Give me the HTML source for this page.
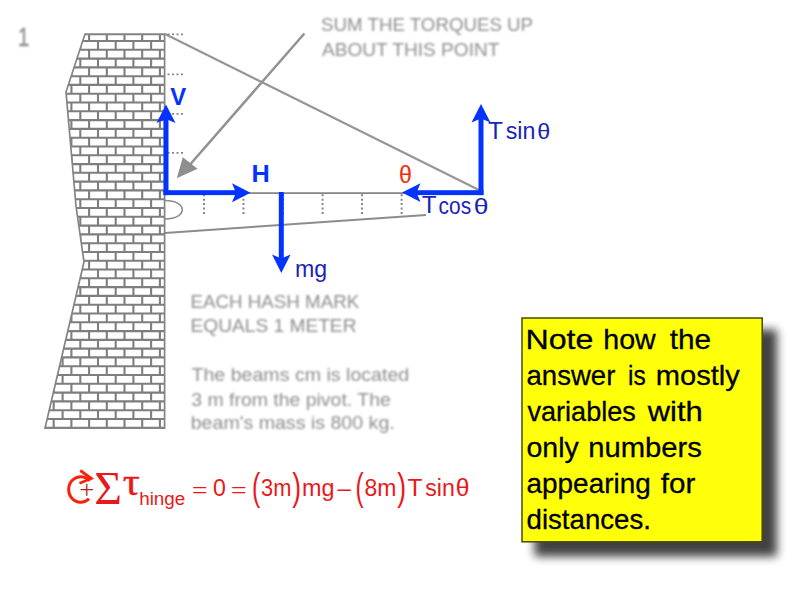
<!DOCTYPE html>
<html lang="en">
<head>
<meta charset="utf-8">
<title>Torque about the hinge</title>
<style>
  html, body { margin: 0; padding: 0; background: #ffffff; }
  body { width: 800px; height: 600px; overflow: hidden; position: relative; }
  svg { position: absolute; left: 0; top: 0; display: block; }
  .sa { font-family: "Liberation Sans", sans-serif; }
  .se { font-family: "Liberation Serif", serif; }
</style>
</head>
<body>
<svg width="800" height="600" viewBox="0 0 800 600">
  <defs>
    <clipPath id="wallclip">
      <polygon points="85,34.100 164.600,34.100 164.600,428.200 45,428.200 84,262 76,206 66,92"/>
    </clipPath>
    <filter id="soft" x="-5%" y="-5%" width="110%" height="110%">
      <feGaussianBlur stdDeviation="0.7"/>
    </filter>
    <filter id="softer" x="-5%" y="-5%" width="110%" height="110%">
      <feGaussianBlur stdDeviation="0.9"/>
    </filter>
    <filter id="shadow" x="-20%" y="-20%" width="140%" height="140%">
      <feGaussianBlur stdDeviation="5"/>
    </filter>
  </defs>

  <!-- grey diagram -->
  <g filter="url(#soft)">
    <path clip-path="url(#wallclip)" fill="none" stroke="#7e7e7e" stroke-width="2.1" d="M40 34.1H166 M40 41.0H166 M40 49.8H166 M40 58.6H166 M40 67.4H166 M40 76.2H166 M40 84.9H166 M40 93.7H166 M40 102.5H166 M40 111.3H166 M40 120.1H166 M40 128.9H166 M40 137.7H166 M40 146.5H166 M40 155.3H166 M40 164.1H166 M40 172.8H166 M40 181.6H166 M40 190.4H166 M40 199.2H166 M40 208.0H166 M40 216.8H166 M40 225.6H166 M40 234.4H166 M40 243.2H166 M40 252.0H166 M40 260.8H166 M40 269.5H166 M40 278.3H166 M40 287.1H166 M40 295.9H166 M40 304.7H166 M40 313.5H166 M40 322.3H166 M40 331.1H166 M40 339.9H166 M40 348.6H166 M40 357.4H166 M40 366.2H166 M40 375.0H166 M40 383.8H166 M40 392.6H166 M40 401.4H166 M40 410.2H166 M40 419.0H166 M40 427.8H166 M53.7 34.1V41.0 M71.4 34.1V41.0 M89.1 34.1V41.0 M106.8 34.1V41.0 M124.5 34.1V41.0 M142.2 34.1V41.0 M159.9 34.1V41.0 M44.9 41.0V49.8 M62.6 41.0V49.8 M80.3 41.0V49.8 M98.0 41.0V49.8 M115.7 41.0V49.8 M133.4 41.0V49.8 M151.1 41.0V49.8 M53.7 49.8V58.6 M71.4 49.8V58.6 M89.1 49.8V58.6 M106.8 49.8V58.6 M124.5 49.8V58.6 M142.2 49.8V58.6 M159.9 49.8V58.6 M44.9 58.6V67.4 M62.6 58.6V67.4 M80.3 58.6V67.4 M98.0 58.6V67.4 M115.7 58.6V67.4 M133.4 58.6V67.4 M151.1 58.6V67.4 M53.7 67.4V76.2 M71.4 67.4V76.2 M89.1 67.4V76.2 M106.8 67.4V76.2 M124.5 67.4V76.2 M142.2 67.4V76.2 M159.9 67.4V76.2 M44.9 76.2V84.9 M62.6 76.2V84.9 M80.3 76.2V84.9 M98.0 76.2V84.9 M115.7 76.2V84.9 M133.4 76.2V84.9 M151.1 76.2V84.9 M53.7 84.9V93.7 M71.4 84.9V93.7 M89.1 84.9V93.7 M106.8 84.9V93.7 M124.5 84.9V93.7 M142.2 84.9V93.7 M159.9 84.9V93.7 M44.9 93.7V102.5 M62.6 93.7V102.5 M80.3 93.7V102.5 M98.0 93.7V102.5 M115.7 93.7V102.5 M133.4 93.7V102.5 M151.1 93.7V102.5 M53.7 102.5V111.3 M71.4 102.5V111.3 M89.1 102.5V111.3 M106.8 102.5V111.3 M124.5 102.5V111.3 M142.2 102.5V111.3 M159.9 102.5V111.3 M44.9 111.3V120.1 M62.6 111.3V120.1 M80.3 111.3V120.1 M98.0 111.3V120.1 M115.7 111.3V120.1 M133.4 111.3V120.1 M151.1 111.3V120.1 M53.7 120.1V128.9 M71.4 120.1V128.9 M89.1 120.1V128.9 M106.8 120.1V128.9 M124.5 120.1V128.9 M142.2 120.1V128.9 M159.9 120.1V128.9 M44.9 128.9V137.7 M62.6 128.9V137.7 M80.3 128.9V137.7 M98.0 128.9V137.7 M115.7 128.9V137.7 M133.4 128.9V137.7 M151.1 128.9V137.7 M53.7 137.7V146.5 M71.4 137.7V146.5 M89.1 137.7V146.5 M106.8 137.7V146.5 M124.5 137.7V146.5 M142.2 137.7V146.5 M159.9 137.7V146.5 M44.9 146.5V155.3 M62.6 146.5V155.3 M80.3 146.5V155.3 M98.0 146.5V155.3 M115.7 146.5V155.3 M133.4 146.5V155.3 M151.1 146.5V155.3 M53.7 155.3V164.1 M71.4 155.3V164.1 M89.1 155.3V164.1 M106.8 155.3V164.1 M124.5 155.3V164.1 M142.2 155.3V164.1 M159.9 155.3V164.1 M44.9 164.1V172.8 M62.6 164.1V172.8 M80.3 164.1V172.8 M98.0 164.1V172.8 M115.7 164.1V172.8 M133.4 164.1V172.8 M151.1 164.1V172.8 M53.7 172.8V181.6 M71.4 172.8V181.6 M89.1 172.8V181.6 M106.8 172.8V181.6 M124.5 172.8V181.6 M142.2 172.8V181.6 M159.9 172.8V181.6 M44.9 181.6V190.4 M62.6 181.6V190.4 M80.3 181.6V190.4 M98.0 181.6V190.4 M115.7 181.6V190.4 M133.4 181.6V190.4 M151.1 181.6V190.4 M53.7 190.4V199.2 M71.4 190.4V199.2 M89.1 190.4V199.2 M106.8 190.4V199.2 M124.5 190.4V199.2 M142.2 190.4V199.2 M159.9 190.4V199.2 M44.9 199.2V208.0 M62.6 199.2V208.0 M80.3 199.2V208.0 M98.0 199.2V208.0 M115.7 199.2V208.0 M133.4 199.2V208.0 M151.1 199.2V208.0 M53.7 208.0V216.8 M71.4 208.0V216.8 M89.1 208.0V216.8 M106.8 208.0V216.8 M124.5 208.0V216.8 M142.2 208.0V216.8 M159.9 208.0V216.8 M44.9 216.8V225.6 M62.6 216.8V225.6 M80.3 216.8V225.6 M98.0 216.8V225.6 M115.7 216.8V225.6 M133.4 216.8V225.6 M151.1 216.8V225.6 M53.7 225.6V234.4 M71.4 225.6V234.4 M89.1 225.6V234.4 M106.8 225.6V234.4 M124.5 225.6V234.4 M142.2 225.6V234.4 M159.9 225.6V234.4 M44.9 234.4V243.2 M62.6 234.4V243.2 M80.3 234.4V243.2 M98.0 234.4V243.2 M115.7 234.4V243.2 M133.4 234.4V243.2 M151.1 234.4V243.2 M53.7 243.2V252.0 M71.4 243.2V252.0 M89.1 243.2V252.0 M106.8 243.2V252.0 M124.5 243.2V252.0 M142.2 243.2V252.0 M159.9 243.2V252.0 M44.9 252.0V260.8 M62.6 252.0V260.8 M80.3 252.0V260.8 M98.0 252.0V260.8 M115.7 252.0V260.8 M133.4 252.0V260.8 M151.1 252.0V260.8 M53.7 260.8V269.5 M71.4 260.8V269.5 M89.1 260.8V269.5 M106.8 260.8V269.5 M124.5 260.8V269.5 M142.2 260.8V269.5 M159.9 260.8V269.5 M44.9 269.5V278.3 M62.6 269.5V278.3 M80.3 269.5V278.3 M98.0 269.5V278.3 M115.7 269.5V278.3 M133.4 269.5V278.3 M151.1 269.5V278.3 M53.7 278.3V287.1 M71.4 278.3V287.1 M89.1 278.3V287.1 M106.8 278.3V287.1 M124.5 278.3V287.1 M142.2 278.3V287.1 M159.9 278.3V287.1 M44.9 287.1V295.9 M62.6 287.1V295.9 M80.3 287.1V295.9 M98.0 287.1V295.9 M115.7 287.1V295.9 M133.4 287.1V295.9 M151.1 287.1V295.9 M53.7 295.9V304.7 M71.4 295.9V304.7 M89.1 295.9V304.7 M106.8 295.9V304.7 M124.5 295.9V304.7 M142.2 295.9V304.7 M159.9 295.9V304.7 M44.9 304.7V313.5 M62.6 304.7V313.5 M80.3 304.7V313.5 M98.0 304.7V313.5 M115.7 304.7V313.5 M133.4 304.7V313.5 M151.1 304.7V313.5 M53.7 313.5V322.3 M71.4 313.5V322.3 M89.1 313.5V322.3 M106.8 313.5V322.3 M124.5 313.5V322.3 M142.2 313.5V322.3 M159.9 313.5V322.3 M44.9 322.3V331.1 M62.6 322.3V331.1 M80.3 322.3V331.1 M98.0 322.3V331.1 M115.7 322.3V331.1 M133.4 322.3V331.1 M151.1 322.3V331.1 M53.7 331.1V339.9 M71.4 331.1V339.9 M89.1 331.1V339.9 M106.8 331.1V339.9 M124.5 331.1V339.9 M142.2 331.1V339.9 M159.9 331.1V339.9 M44.9 339.9V348.6 M62.6 339.9V348.6 M80.3 339.9V348.6 M98.0 339.9V348.6 M115.7 339.9V348.6 M133.4 339.9V348.6 M151.1 339.9V348.6 M53.7 348.6V357.4 M71.4 348.6V357.4 M89.1 348.6V357.4 M106.8 348.6V357.4 M124.5 348.6V357.4 M142.2 348.6V357.4 M159.9 348.6V357.4 M44.9 357.4V366.2 M62.6 357.4V366.2 M80.3 357.4V366.2 M98.0 357.4V366.2 M115.7 357.4V366.2 M133.4 357.4V366.2 M151.1 357.4V366.2 M53.7 366.2V375.0 M71.4 366.2V375.0 M89.1 366.2V375.0 M106.8 366.2V375.0 M124.5 366.2V375.0 M142.2 366.2V375.0 M159.9 366.2V375.0 M44.9 375.0V383.8 M62.6 375.0V383.8 M80.3 375.0V383.8 M98.0 375.0V383.8 M115.7 375.0V383.8 M133.4 375.0V383.8 M151.1 375.0V383.8 M53.7 383.8V392.6 M71.4 383.8V392.6 M89.1 383.8V392.6 M106.8 383.8V392.6 M124.5 383.8V392.6 M142.2 383.8V392.6 M159.9 383.8V392.6 M44.9 392.6V401.4 M62.6 392.6V401.4 M80.3 392.6V401.4 M98.0 392.6V401.4 M115.7 392.6V401.4 M133.4 392.6V401.4 M151.1 392.6V401.4 M53.7 401.4V410.2 M71.4 401.4V410.2 M89.1 401.4V410.2 M106.8 401.4V410.2 M124.5 401.4V410.2 M142.2 401.4V410.2 M159.9 401.4V410.2 M44.9 410.2V419.0 M62.6 410.2V419.0 M80.3 410.2V419.0 M98.0 410.2V419.0 M115.7 410.2V419.0 M133.4 410.2V419.0 M151.1 410.2V419.0 M53.7 419.0V427.8 M71.4 419.0V427.8 M89.1 419.0V427.8 M106.8 419.0V427.8 M124.5 419.0V427.8 M142.2 419.0V427.8 M159.9 419.0V427.8"/>
    <polygon points="85,34.100 164.600,34.100 164.600,428.200 45,428.200 84,262 76,206 66,92" fill="none" stroke="#848484" stroke-width="1.7"/>

    <!-- cable -->
    <line x1="165" y1="34" x2="482" y2="191.400" stroke="#969696" stroke-width="2.2"/>
    <!-- beam -->
    <line x1="165" y1="193.100" x2="482" y2="193.100" stroke="#858585" stroke-width="1.8"/>
    <line x1="165" y1="233" x2="426" y2="215" stroke="#8c8c8c" stroke-width="1.9"/>
    <!-- hinge -->
    <path d="M165 200.500 C188 200.500 188 219 165 219" fill="none" stroke="#8c8c8c" stroke-width="1.6"/>
    <!-- beam hash marks -->
    <g stroke="#868686" stroke-width="2" stroke-dasharray="2 2.45">
      <line x1="204" y1="194.200" x2="204" y2="214"/>
      <line x1="243.500" y1="194.200" x2="243.500" y2="214"/>
      <line x1="283" y1="194.200" x2="283" y2="214"/>
      <line x1="322.600" y1="194.200" x2="322.600" y2="214"/>
      <line x1="362" y1="194.200" x2="362" y2="214"/>
      <line x1="401.600" y1="194.200" x2="401.600" y2="214"/>
    </g>
    <!-- wall hash marks -->
    <g stroke="#868686" stroke-width="1.9" stroke-dasharray="2 2.5">
      <line x1="167.500" y1="34.400" x2="183.500" y2="34.400"/>
      <line x1="167.500" y1="74.400" x2="183.500" y2="74.400"/>
      <line x1="167.500" y1="113.900" x2="183.500" y2="113.900"/>
      <line x1="167.500" y1="152.900" x2="183.500" y2="152.900"/>
    </g>
    <!-- pointer arrow -->
    <line x1="304.400" y1="33.500" x2="189" y2="165.700" stroke="#929292" stroke-width="2.5"/>
    <polygon points="176.800,178.300 182.800,157.300 197.500,168.800" fill="#8e8e8e"/>

  </g>
  <g filter="url(#softer)">
    <text x="18.10" y="46.25" font-size="25.35" class="sa" fill="#8e8e8e" stroke="#8e8e8e" stroke-width="0.5" textLength="11.28" lengthAdjust="spacingAndGlyphs">1</text>
    <text x="321.02" y="31.10" font-size="19" class="sa" fill="#8e8e8e" textLength="212.09" lengthAdjust="spacingAndGlyphs">SUM THE TORQUES UP</text>
    <text x="322.00" y="55.60" font-size="19" class="sa" fill="#8e8e8e" textLength="177.41" lengthAdjust="spacingAndGlyphs">ABOUT THIS POINT</text>
    <text x="190.52" y="308.30" font-size="19" class="sa" fill="#8e8e8e" textLength="168.76" lengthAdjust="spacingAndGlyphs">EACH HASH MARK</text>
    <text x="190.49" y="332.10" font-size="19" class="sa" fill="#8e8e8e" textLength="165.98" lengthAdjust="spacingAndGlyphs">EQUALS 1 METER</text>
    <text x="191.48" y="381.10" font-size="19" class="sa" fill="#8e8e8e" textLength="217.75" lengthAdjust="spacingAndGlyphs">The beams cm is located</text>
    <text x="191.23" y="405.60" font-size="19" class="sa" fill="#8e8e8e" textLength="199.55" lengthAdjust="spacingAndGlyphs">3 m from the pivot. The</text>
    <text x="190.71" y="429.10" font-size="19" class="sa" fill="#8e8e8e" textLength="204.02" lengthAdjust="spacingAndGlyphs">beam&#39;s mass is 800 kg.</text>
  </g>

  <!-- blue force arrows -->
  <g fill="#0433ff" stroke="none">
    <!-- V -->
    <rect x="163.500" y="118" width="5" height="77.100"/>
    <polygon points="166,104.500 175.500,123 166,119 156.500,123"/>
    <!-- H -->
    <rect x="163.500" y="190.200" width="74" height="4.900"/>
    <polygon points="250.500,192.700 232,202.200 236,192.700 232,183.200"/>
    <!-- mg -->
    <rect x="278.800" y="192" width="5" height="68"/>
    <polygon points="281.300,273 272,254.500 281.300,258.500 290.600,254.500"/>
    <!-- T sin -->
    <rect x="478.500" y="117" width="5" height="78.100"/>
    <polygon points="481,104 490.500,122.500 481,118.500 471.500,122.500"/>
    <!-- T cos -->
    <rect x="415" y="190.200" width="68.500" height="4.900"/>
    <polygon points="402,192.600 420.500,183.300 416.500,192.600 420.500,201.900"/>
  </g>

  <!-- blue labels -->
  <g>
    <text x="170.26" y="104.50" font-size="24.73" font-weight="bold" class="sa" fill="#0433ff" textLength="15.98" lengthAdjust="spacingAndGlyphs">V</text>
    <text x="251.42" y="181.50" font-size="24.0" font-weight="bold" class="sa" fill="#0433ff" textLength="18.24" lengthAdjust="spacingAndGlyphs">H</text>
    <text x="294.99" y="277.20" font-size="23" class="sa" fill="#1a24ba" textLength="32.17" lengthAdjust="spacingAndGlyphs">mg</text>
    <text x="487.99" y="138.50" font-size="24.08" class="sa" fill="#1a24ba" textLength="14.98" lengthAdjust="spacingAndGlyphs">T</text>
    <text x="505.74" y="138.50" font-size="23" class="sa" fill="#1a24ba" textLength="29.67" lengthAdjust="spacingAndGlyphs">sin</text>
    <text x="537.22" y="138.55" font-size="22.73" class="sa" fill="#1a24ba" textLength="12.95" lengthAdjust="spacingAndGlyphs">θ</text>
    <text x="421.77" y="213.40" font-size="23.0" class="sa" fill="#1a24ba" textLength="14.81" lengthAdjust="spacingAndGlyphs">T</text>
    <text x="438.59" y="213.50" font-size="23" class="sa" fill="#1a24ba" textLength="32.53" lengthAdjust="spacingAndGlyphs">cos</text>
    <text x="473.72" y="213.55" font-size="22.46" class="sa" fill="#1a24ba" textLength="14.74" lengthAdjust="spacingAndGlyphs">θ</text>
    <text x="399.00" y="183.05" font-size="24.08" class="sa" fill="#f52a0a" textLength="12.91" lengthAdjust="spacingAndGlyphs">θ</text>
  </g>

  <!-- equation -->
  <g>
    <path d="M89 498.700 A12 12.800 0 1 1 89.600 480.900" fill="none" stroke="#fa200a" stroke-width="3"/>
    <path d="M80.300 470.500 L91.300 478.500 L79.500 483.300" fill="none" stroke="#fa200a" stroke-width="2.8" stroke-linejoin="miter"/>
    <text x="79.31" y="498.15" font-size="25.76" class="se" fill="#b82818" textLength="15.01" lengthAdjust="spacingAndGlyphs">+</text>
    <text x="94.19" y="504.00" font-size="46.14" class="se" fill="#ea181a" textLength="27.74" lengthAdjust="spacingAndGlyphs">Σ</text>
    <text x="122.65" y="495.20" font-size="37.86" class="se" fill="#ea181a" stroke="#ea181a" stroke-width="0.4" textLength="17.15" lengthAdjust="spacingAndGlyphs">τ</text>
    <text x="139.19" y="504.50" font-size="18" class="sa" fill="#ea181a" textLength="46.14" lengthAdjust="spacingAndGlyphs">hinge</text>
    <text x="192.09" y="496.05" font-size="19" class="sa" fill="#ea181a" textLength="15.60" lengthAdjust="spacingAndGlyphs">=</text>
    <text x="213.02" y="495.75" font-size="23.71" class="sa" fill="#ea181a" textLength="12.89" lengthAdjust="spacingAndGlyphs">0</text>
    <text x="231.09" y="496.05" font-size="19" class="sa" fill="#ea181a" textLength="15.60" lengthAdjust="spacingAndGlyphs">=</text>
    <text x="252.04" y="499.50" font-size="37.87" class="sa" fill="#ea181a" textLength="8.20" lengthAdjust="spacingAndGlyphs">(</text>
    <text x="261.05" y="496.00" font-size="23" class="sa" fill="#ea181a" textLength="30.33" lengthAdjust="spacingAndGlyphs">3m</text>
    <text x="292.32" y="499.50" font-size="37.87" class="sa" fill="#ea181a" textLength="8.83" lengthAdjust="spacingAndGlyphs">)</text>
    <text x="301.97" y="496.00" font-size="23" class="sa" fill="#ea181a" textLength="32.50" lengthAdjust="spacingAndGlyphs">mg</text>
    <text x="336.30" y="498.00" font-size="23" class="sa" fill="#ea181a" textLength="16.12" lengthAdjust="spacingAndGlyphs">−</text>
    <text x="355.54" y="499.50" font-size="37.87" class="sa" fill="#ea181a" textLength="8.20" lengthAdjust="spacingAndGlyphs">(</text>
    <text x="364.50" y="496.00" font-size="23" class="sa" fill="#ea181a" textLength="31.95" lengthAdjust="spacingAndGlyphs">8m</text>
    <text x="397.32" y="499.50" font-size="37.87" class="sa" fill="#ea181a" textLength="8.83" lengthAdjust="spacingAndGlyphs">)</text>
    <text x="407.49" y="496.00" font-size="24.08" class="sa" fill="#ea181a" textLength="14.98" lengthAdjust="spacingAndGlyphs">T</text>
    <text x="425.24" y="496.00" font-size="23" class="sa" fill="#ea181a" textLength="29.67" lengthAdjust="spacingAndGlyphs">sin</text>
    <text x="455.66" y="495.75" font-size="23.0" class="sa" fill="#ea181a" textLength="13.73" lengthAdjust="spacingAndGlyphs">θ</text>
  </g>

  <!-- note box -->
  <rect x="534.500" y="329.500" width="242.500" height="227" fill="#000000" opacity="0.74" filter="url(#shadow)"/>
  <rect x="522" y="318" width="240.200" height="223.800" fill="#ffff0a" stroke="#4a4a00" stroke-width="1.5"/>
  <g>
    <text x="525.46" y="349.00" font-size="28.5" class="sa" fill="#000000" stroke="#000000" stroke-width="0.3" textLength="67.89" lengthAdjust="spacingAndGlyphs">Note</text>
    <text x="603.24" y="349.00" font-size="28.5" class="sa" fill="#000000" stroke="#000000" stroke-width="0.3" textLength="52.54" lengthAdjust="spacingAndGlyphs">how</text>
    <text x="669.74" y="349.00" font-size="28.5" class="sa" fill="#000000" stroke="#000000" stroke-width="0.3" textLength="41.43" lengthAdjust="spacingAndGlyphs">the</text>
    <text x="526.53" y="385.00" font-size="28.5" class="sa" fill="#000000" stroke="#000000" stroke-width="0.3" textLength="88.83" lengthAdjust="spacingAndGlyphs">answer</text>
    <text x="627.99" y="385.00" font-size="28.5" class="sa" fill="#000000" stroke="#000000" stroke-width="0.3" textLength="17.72" lengthAdjust="spacingAndGlyphs">is</text>
    <text x="655.71" y="385.00" font-size="28.5" class="sa" fill="#000000" stroke="#000000" stroke-width="0.3" textLength="84.13" lengthAdjust="spacingAndGlyphs">mostly</text>
    <text x="527.50" y="421.00" font-size="28.5" class="sa" fill="#000000" stroke="#000000" stroke-width="0.3" textLength="108.27" lengthAdjust="spacingAndGlyphs">variables</text>
    <text x="647.77" y="421.00" font-size="28.5" class="sa" fill="#000000" stroke="#000000" stroke-width="0.3" textLength="55.06" lengthAdjust="spacingAndGlyphs">with</text>
    <text x="526.50" y="457.00" font-size="28.5" class="sa" fill="#000000" stroke="#000000" stroke-width="0.3" textLength="52.29" lengthAdjust="spacingAndGlyphs">only</text>
    <text x="588.21" y="457.00" font-size="28.5" class="sa" fill="#000000" stroke="#000000" stroke-width="0.3" textLength="113.70" lengthAdjust="spacingAndGlyphs">numbers</text>
    <text x="526.52" y="493.00" font-size="28.5" class="sa" fill="#000000" stroke="#000000" stroke-width="0.3" textLength="124.22" lengthAdjust="spacingAndGlyphs">appearing</text>
    <text x="660.74" y="493.00" font-size="28.5" class="sa" fill="#000000" stroke="#000000" stroke-width="0.3" textLength="34.53" lengthAdjust="spacingAndGlyphs">for</text>
    <text x="526.53" y="529.00" font-size="28.5" class="sa" fill="#000000" stroke="#000000" stroke-width="0.3" textLength="124.46" lengthAdjust="spacingAndGlyphs">distances.</text>
  </g>
</svg>
</body>
</html>
